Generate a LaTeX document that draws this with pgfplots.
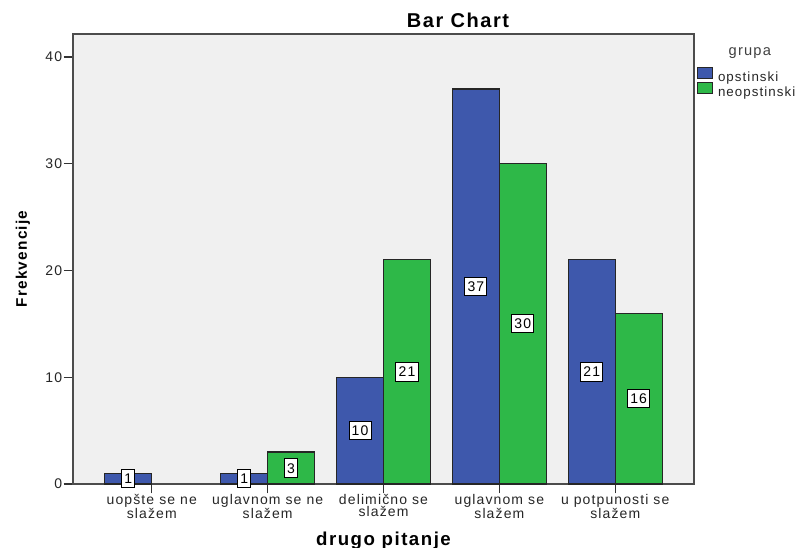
\documentclass[border=0pt]{standalone}
\usepackage{pgfplots}
\pgfplotsset{compat=1.18}
\usepackage{fontspec}
\setmainfont{Liberation Sans}[LetterSpace=8]
\definecolor{spssblue}{HTML}{3E58AC}
\definecolor{spssgreen}{HTML}{2EB848}
\definecolor{spssbg}{HTML}{F0F0F0}
\newcommand{\tickfont}{\fontsize{10.5}{9.5}\selectfont}
\begin{document}
\begin{tikzpicture}
\useasboundingbox (-54.75pt,-47.25pt) rectangle (544.5pt,363pt);
\begin{axis}[
  at={(0,0)}, anchor=south west,
  scale only axis, width=465.75pt, height=337.5pt,
  ybar=0pt, bar width=0.405,
  xmin=-0.68, xmax=4.68, ymin=0, ymax=42.15,
  xtick={0,1,2,3,4},
  xticklabels={uopšte se ne\\slažem, uglavnom se ne\\slažem, delimično se\\slažem, uglavnom se\\slažem, u potpunosti se\\slažem},
  ytick={0,10,20,30,40},
  tick pos=left, tick align=outside, major tick length=7pt,
  tick style={black!80, line width=0.9pt},
  axis background/.style={fill=spssbg},
  axis line style={black!70, line width=1pt},
  clip=false,
  ticklabel style={font=\tickfont, text=black!85},
  xticklabel style={align=center, yshift=3pt},
  yticklabel style={inner xsep=1pt},
  /pgf/number format/assume math mode=true,
  title={Bar Chart},
  title style={font=\bfseries\fontsize{15}{17}\selectfont, at={([xshift=288.75pt,yshift=5.25pt]rel axis cs:0,1)}, anchor=base, yshift=-6pt},
  xlabel={drugo pitanje},
  xlabel style={font=\bfseries\fontsize{14}{16}\selectfont, at={([yshift=-45.75pt]rel axis cs:0.5,0)}, anchor=base},
  ylabel={Frekvencije},
  ylabel style={font=\bfseries\fontsize{11.5}{14}\selectfont, at={([xshift=-34.5pt]rel axis cs:0,0.5)}, anchor=base},
  nodes near coords,
  visualization depends on={rawy \as \rawy},
  every node near coord/.append style={anchor=center, yshift=-4.0035pt*\rawy,
    fill=white, draw=black, line width=0.7pt, inner xsep=2pt, inner ysep=3pt,
    text height=7.6pt, text depth=0pt, font=\tickfont, text=black},
  legend style={at={([xshift=2.25pt,yshift=-24.5pt]rel axis cs:1,1)}, anchor=north west,
    draw=none, fill=none, inner sep=0pt, row sep=-2.25pt, font=\fontsize{10}{9.5}\selectfont, text=black!85,
    nodes={inner ysep=0.5pt, inner xsep=0.5pt, text height=8pt, text depth=2.25pt},
    /tikz/every odd column/.append style={column sep=3pt}},
  legend cell align=left,
  legend image code/.code={\draw[#1] (0pt,-0.75pt) rectangle (11.25pt,7.5pt);},
]
\addplot[fill=spssblue, draw=black!85, line width=0.8pt] coordinates {(0,1) (1,1) (2,10) (3,37) (4,21)};
\addplot[fill=spssgreen, draw=black!85, line width=0.8pt] coordinates {(1,3) (2,21) (3,30) (4,16)};
\legend{opstinski, neopstinski}
\node[anchor=base west, font=\fontsize{11}{13}\selectfont, text=black!75] at ([xshift=22.5pt,yshift=-15.75pt]rel axis cs:1,1) {grupa};
\end{axis}
\end{tikzpicture}
\end{document}
